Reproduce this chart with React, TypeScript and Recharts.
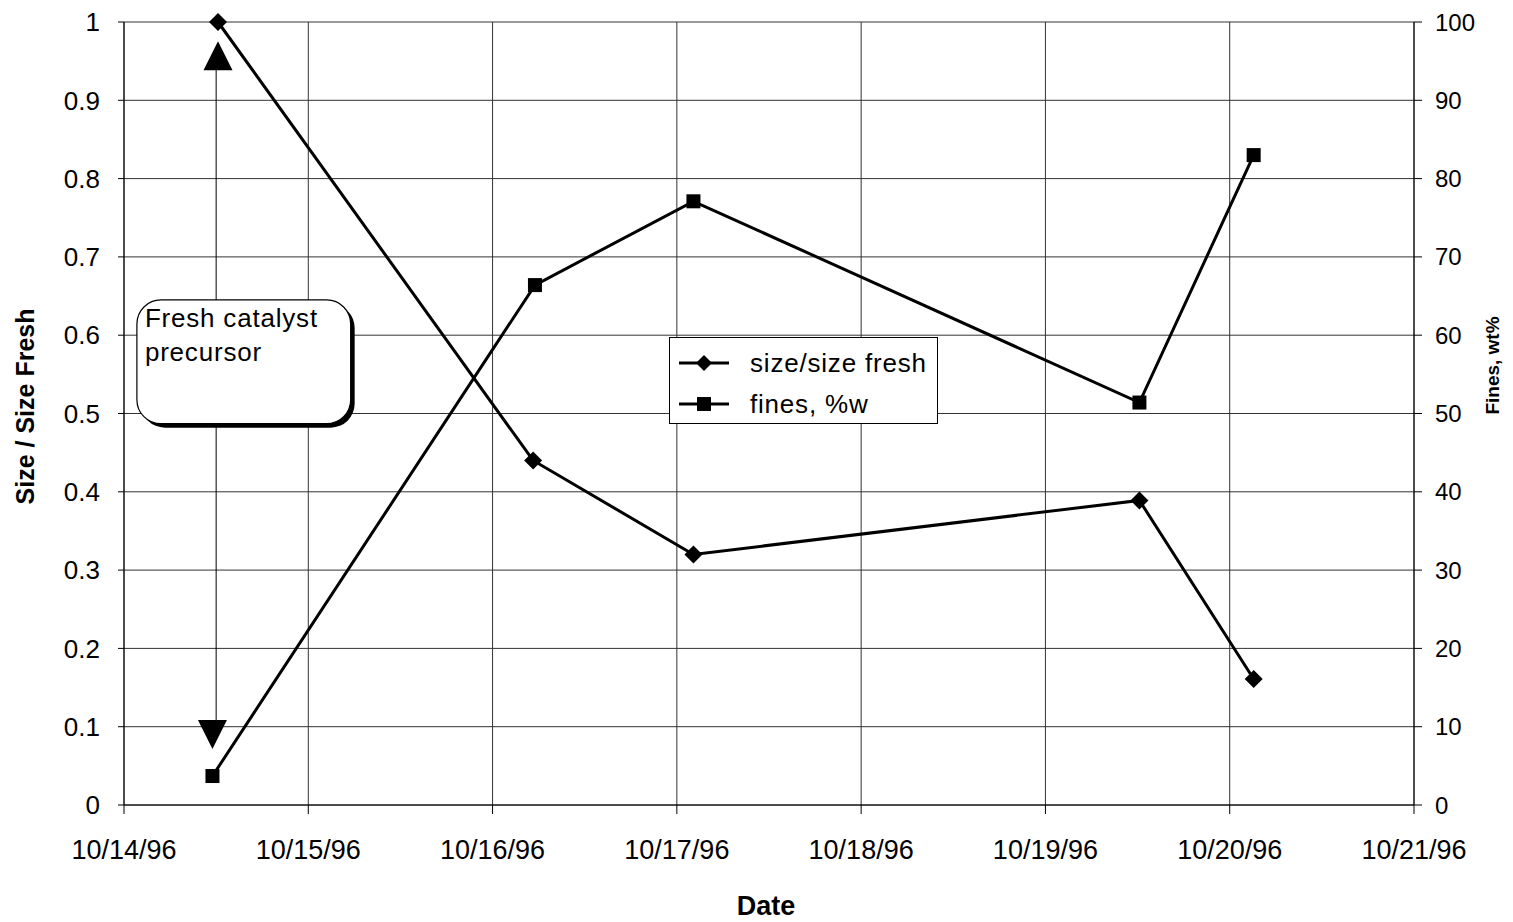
import {
  CartesianGrid,
  Label,
  Legend,
  Line,
  LineChart,
  ReferenceArea,
  ReferenceDot,
  ReferenceLine,
  XAxis,
  YAxis,
} from "recharts";

const FONT = '"Liberation Sans", Arial, Helvetica, sans-serif';

// x values are days after 10/14/96
const dateLabels = [
  "10/14/96",
  "10/15/96",
  "10/16/96",
  "10/17/96",
  "10/18/96",
  "10/19/96",
  "10/20/96",
  "10/21/96",
];
const dayTicks = [0, 1, 2, 3, 4, 5, 6, 7];
const sizeTicks = [0, 0.1, 0.2, 0.3, 0.4, 0.5, 0.6, 0.7, 0.8, 0.9, 1];
const finesTicks = [0, 10, 20, 30, 40, 50, 60, 70, 80, 90, 100];

const sizeDays = [0.51, 2.22, 3.09, 5.51, 6.13];
const sizeValues = [1.0, 0.44, 0.32, 0.389, 0.161];

const finesDays = [0.48, 2.23, 3.09, 5.51, 6.13];
const finesValues = [3.7, 66.4, 77.1, 51.4, 83.0];

// annotation: arrow markers and callout box (data units, left axis)
const arrowDay = 0.5;
const upMarker = { day: 0.51, value: 0.957 };
const downMarker = { day: 0.48, value: 0.09 };
const calloutBox = { x1: 0.07, x2: 1.23, y1: 0.487, y2: 0.645 };
const calloutLines = ["Fresh catalyst", "precursor"];

const sizeData = sizeDays.map((day, i) => ({ day, value: sizeValues[i] }));
const finesData = finesDays.map((day, i) => ({ day, value: finesValues[i] }));

const diamondDot = (props: any) => {
  const { cx, cy, index } = props;
  if (cx == null || cy == null) return <g key={`d-${index}`} />;
  const r = 9;
  return (
    <path
      key={`d-${index}`}
      d={`M${cx},${cy - r}L${cx + r},${cy}L${cx},${cy + r}L${cx - r},${cy}Z`}
      fill="#000"
    />
  );
};

const squareDot = (props: any) => {
  const { cx, cy, index } = props;
  if (cx == null || cy == null) return <g key={`s-${index}`} />;
  return <rect key={`s-${index}`} x={cx - 7} y={cy - 7} width={14} height={14} fill="#000" />;
};

const triangle = (up: boolean) => (props: any) => {
  const { cx, cy } = props;
  const h = 14.5;
  const pts = up
    ? `${cx},${cy - h} ${cx + h},${cy + h} ${cx - h},${cy + h}`
    : `${cx - h},${cy - h} ${cx + h},${cy - h} ${cx},${cy + h}`;
  return <polygon points={pts} fill="#000" />;
};

const calloutShape = (props: any) => {
  const { x, y, width, height } = props;
  return (
    <g>
      <rect x={x + 4} y={y + 4} width={width} height={height} rx={24} ry={24} fill="#000" />
      <rect x={x} y={y} width={width} height={height} rx={24} ry={24} fill="#fff" stroke="#000" strokeWidth={1.2} />
      {calloutLines.map((t, i) => (
        <text
          key={t}
          x={x + 8}
          y={y + 27 + i * 34}
          fontSize={26}
          letterSpacing={0.8}
          fontFamily={FONT}
          fill="#000"
        >
          {t}
        </text>
      ))}
    </g>
  );
};

const LegendBox = () => {
  const rows = [
    { label: "size/size fresh", marker: "diamond" },
    { label: "fines, %w", marker: "square" },
  ];
  return (
    <div
      style={{
        position: "relative",
        width: 267,
        height: 85,
        border: "1px solid #000",
        background: "#fff",
        fontFamily: FONT,
        fontSize: 26,
        letterSpacing: 0.8,
        color: "#000",
      }}
    >
      {rows.map((r, i) => (
        <div key={r.label} style={{ position: "absolute", left: 0, top: 25 + i * 41 - 16, height: 32, width: 267 }}>
          <svg width={70} height={32} style={{ position: "absolute", left: 0, top: 0 }}>
            <line x1={9} x2={59} y1={16} y2={16} stroke="#000" strokeWidth={3} />
            {r.marker === "diamond" ? (
              <path d="M34,8L42,16L34,24L26,16Z" fill="#000" />
            ) : (
              <rect x={27} y={9} width={14} height={14} fill="#000" />
            )}
          </svg>
          <span style={{ position: "absolute", left: 80, top: 0, lineHeight: "32px", whiteSpace: "nowrap" }}>
            {r.label}
          </span>
        </div>
      ))}
    </div>
  );
};

const leftTitle = (props: any) => {
  const { viewBox } = props;
  const x = viewBox.x + 25;
  const y = viewBox.y + viewBox.height / 2 - 7;
  return (
    <text
      x={x}
      y={y}
      transform={`rotate(-90, ${x}, ${y})`}
      textAnchor="middle"
      dominantBaseline="central"
      fontSize={25}
      fontWeight="bold"
      fontFamily={FONT}
      fill="#000"
    >
      Size / Size Fresh
    </text>
  );
};

const rightTitle = (props: any) => {
  const { viewBox } = props;
  const x = viewBox.x + viewBox.width - 21;
  const y = viewBox.y + viewBox.height / 2 - 48;
  return (
    <text
      x={x}
      y={y}
      transform={`rotate(-90, ${x}, ${y})`}
      textAnchor="middle"
      dominantBaseline="central"
      fontSize={19}
      fontWeight="bold"
      fontFamily={FONT}
      fill="#000"
    >
      Fines, wt%
    </text>
  );
};

const dateTitle = (props: any) => {
  const { viewBox } = props;
  return (
    <text
      x={viewBox.x + viewBox.width / 2 - 3}
      y={viewBox.y + 110}
      textAnchor="middle"
      fontSize={27}
      fontWeight="bold"
      fontFamily={FONT}
      fill="#000"
    >
      Date
    </text>
  );
};

export default function App() {
  return (
    <div style={{ position: "absolute", left: 0, top: 0, width: 1513, height: 922, background: "#fff" }}>
      <LineChart width={1513} height={922} margin={{ top: 22, right: 0, left: 0, bottom: 0 }}>
        <CartesianGrid yAxisId="left" stroke="#333" strokeWidth={1} />
        <XAxis
          dataKey="day"
          type="number"
          domain={[0, 7]}
          ticks={dayTicks}
          tickFormatter={(v: number) => dateLabels[v]}
          allowDuplicatedCategory={false}
          height={117}
          tickSize={9}
          tickMargin={26}
          axisLine={{ stroke: "#000" }}
          tickLine={{ stroke: "#000" }}
          tick={{ fontSize: 27, fill: "#000", fontFamily: FONT }}
          interval={0}
        >
          <Label content={dateTitle} />
        </XAxis>
        <YAxis
          yAxisId="left"
          domain={[0, 1]}
          ticks={sizeTicks}
          width={124}
          tickSize={6}
          tickMargin={18}
          axisLine={{ stroke: "#000" }}
          tickLine={{ stroke: "#000" }}
          tick={{ fontSize: 26, fill: "#000", fontFamily: FONT }}
          interval={0}
        >
          <Label content={leftTitle} />
        </YAxis>
        <YAxis
          yAxisId="right"
          orientation="right"
          domain={[0, 100]}
          ticks={finesTicks}
          width={99}
          tickSize={8}
          tickMargin={13}
          axisLine={{ stroke: "#000" }}
          tickLine={{ stroke: "#000" }}
          tick={{ fontSize: 24, fill: "#000", fontFamily: FONT }}
          interval={0}
        >
          <Label content={rightTitle} />
        </YAxis>
        <ReferenceLine
          yAxisId="left"
          segment={[
            { x: arrowDay, y: upMarker.value },
            { x: arrowDay, y: calloutBox.y2 },
          ]}
          stroke="#000"
          strokeWidth={1}
        />
        <ReferenceLine
          yAxisId="left"
          segment={[
            { x: arrowDay, y: calloutBox.y1 },
            { x: arrowDay, y: downMarker.value },
          ]}
          stroke="#000"
          strokeWidth={1}
        />
        <ReferenceDot yAxisId="left" x={upMarker.day} y={upMarker.value} shape={triangle(true)} />
        <ReferenceDot yAxisId="left" x={downMarker.day} y={downMarker.value} shape={triangle(false)} />
        <ReferenceArea
          yAxisId="left"
          x1={calloutBox.x1}
          x2={calloutBox.x2}
          y1={calloutBox.y1}
          y2={calloutBox.y2}
          shape={calloutShape}
        />
        <Line
          yAxisId="left"
          data={sizeData}
          dataKey="value"
          name="size/size fresh"
          type="linear"
          stroke="#000"
          strokeWidth={3}
          dot={diamondDot}
          activeDot={false}
          isAnimationActive={false}
        />
        <Line
          yAxisId="right"
          data={finesData}
          dataKey="value"
          name="fines, %w"
          type="linear"
          stroke="#000"
          strokeWidth={3}
          dot={squareDot}
          activeDot={false}
          isAnimationActive={false}
        />
        <Legend
          layout="vertical"
          align="center"
          verticalAlign="middle"
          content={() => <LegendBox />}
          wrapperStyle={{ position: "absolute", left: 669, top: 337, width: "auto", height: "auto" }}
        />
      </LineChart>
    </div>
  );
}
